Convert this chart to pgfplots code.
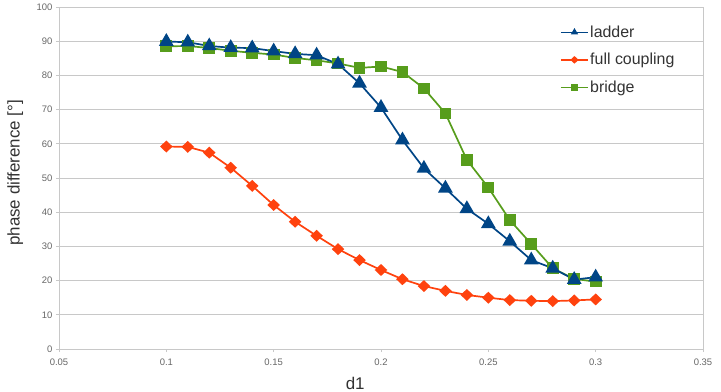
\documentclass[border=0pt]{standalone}
\usepackage{pgfplots}
\pgfplotsset{compat=1.18}
\usepackage{fontspec}
\setmainfont{Liberation Sans}

\definecolor{ladderblue}{HTML}{004586}
\definecolor{fullorange}{HTML}{FF420E}
\definecolor{bridgegreen}{HTML}{579D1C}
\definecolor{gridgray}{HTML}{C8C8C8}
\definecolor{ticktext}{HTML}{666666}
\definecolor{labeltext}{HTML}{333333}

\begin{document}
\begin{tikzpicture}
\path[use as bounding box] (-59bp,-43bp) rectangle (662bp,349bp);
\begin{axis}[
  at={(0,0)}, anchor=south west,
  scale only axis,
  width=644bp, height=342bp,
  xmin=0.05, xmax=0.35, ymin=0, ymax=100,
  xtick={0.05,0.1,...,0.351},
  ytick={0,10,...,100},
  /pgf/number format/assume math mode=true,
  /pgf/number format/fixed,
  /pgf/number format/precision=2,
  ymajorgrids,
  grid style={gridgray, line width=0.9bp},
  axis line style={gridgray, line width=0.9bp},
  tick align=outside,
  major tick length=3bp,
  tick style={gridgray, line width=0.8bp},
  xtick pos=bottom, ytick pos=left,
  tick label style={font=\fontsize{9.5}{11}\selectfont, text=ticktext},
  xticklabel style={yshift=-3bp},
  xlabel={d1},
  ylabel={phase difference [°]},
  every axis x label/.style={at={(axis description cs:0.46,-0.102)}, anchor=center,
    font=\fontsize{17}{19}\selectfont, text=labeltext},
  every axis y label/.style={at={(axis description cs:-0.068,0.515)}, rotate=90, anchor=center,
    font=\fontsize{17}{19}\selectfont, text=labeltext},
  legend style={at={(axis description cs:0.778,0.95)}, anchor=north west, draw=none, fill=none,
    inner sep=0pt, font=\fontsize{16}{18}\selectfont, text=labeltext, row sep=11.5bp,
    nodes={inner sep=1.5bp}},
  legend cell align=left,
  reverse legend,
  legend image code/.code={
    \draw[#1, mark repeat=2, mark phase=2, mark size=2.8bp, line width=1.5bp]
      plot coordinates {(0bp,0bp) (13.5bp,0bp) (27bp,0bp)};
  },
  every axis plot/.append style={line width=1.7bp},
]
% drawn back to front: bridge, full coupling, ladder
\addplot[bridgegreen, mark=square*, mark size=5bp] coordinates {
  (0.10,88.5) (0.11,88.6) (0.12,88.0) (0.13,87.2) (0.14,86.6) (0.15,86.1)
  (0.16,85.1) (0.17,84.4) (0.18,83.5) (0.19,82.2) (0.20,82.6) (0.21,81.0)
  (0.22,76.2) (0.23,68.9) (0.24,55.3) (0.25,47.2) (0.26,37.7) (0.27,30.7)
  (0.28,23.6) (0.29,20.5) (0.30,19.7)
};
\addlegendentry{bridge}
\addplot[fullorange, mark=diamond*, mark size=4.8bp, mark options={xscale=1.4}] coordinates {
  (0.10,59.2) (0.11,59.1) (0.12,57.4) (0.13,53.0) (0.14,47.7) (0.15,42.1)
  (0.16,37.2) (0.17,33.1) (0.18,29.2) (0.19,26.0) (0.20,23.1) (0.21,20.4)
  (0.22,18.4) (0.23,17.0) (0.24,15.8) (0.25,15.0) (0.26,14.3) (0.27,14.1)
  (0.28,14.0) (0.29,14.2) (0.30,14.5)
};
\addlegendentry{full coupling}
\addplot[ladderblue, mark=triangle*, mark size=6.8bp] coordinates {
  (0.10,89.9) (0.11,89.7) (0.12,88.6) (0.13,88.1) (0.14,88.0) (0.15,87.1)
  (0.16,86.3) (0.17,85.9) (0.18,83.3) (0.19,77.7) (0.20,70.6) (0.21,61.1)
  (0.22,52.8) (0.23,47.0) (0.24,41.0) (0.25,36.6) (0.26,31.5) (0.27,26.0)
  (0.28,23.6) (0.29,20.3) (0.30,21.0)
};
\addlegendentry{ladder}
\end{axis}
\end{tikzpicture}
\end{document}
